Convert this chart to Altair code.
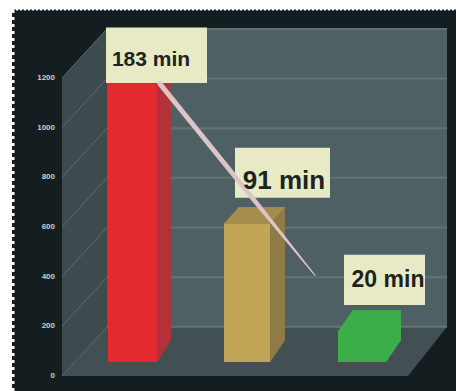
import altair as alt
import pandas as pd

W, H = 456, 391

# Bar values in minutes and their call-outs
bar_minutes = [183, 91, 20]
bar_left = [108, 224, 338]
bar_width = [49, 46, 48]
bar_depth_x = [14, 15, 15]
bar_top_rise = [11, 11, 14]     # rise of the top face, minutes
bar_floor_rise = [14.5, 14.5, 14.5]
front_colors = ["#e4292f", "#c2a557", "#3bae4a"]
side_colors = ["#b3323a", "#8f7b46", "#3bae4a"]
top_colors = ["#c0303a", "#a58d4f", "#3bae4a"]

label_text = ["183 min", "91 min", "20 min"]
label_box_x = [106, 235, 344]
label_box_x2 = [207, 330, 425]
label_box_min = [183.5, 108, 37.5]   # lower edge of each call-out, minutes
label_box_h = [36.5, 33, 33]
label_text_x = [151, 284, 388]
label_text_min = [199, 119, 54]
label_font_size = [21, 26, 23]

# Value axis and walls of the 3D frame
axis_ticks = [0, 200, 400, 600, 800, 1000, 1200]
axis_label_x = 55
wall_front_x, wall_back_x, wall_right_x, floor_right_x = 62, 107, 447, 408
depth_units = 198
wall_top = 1200

# Leader from the first call-out towards the second bar
leader_x = [160, 253, 315]
leader_min = [183, 107.4, 57]
leader_size = [5, 4.5, 1]

frame_x = alt.Scale(domain=[0, W], range=[0, W], nice=False, zero=False)
units_y = alt.Scale(domain=[-60.4, 1514.3], range=[H, 0], nice=False, zero=False)
minutes_y = alt.Scale(domain=[-19.08, 238.16], range=[H, 0], nice=False, zero=False)

X = alt.X("x:Q", scale=frame_x, axis=None)
Y_MIN = alt.Y("y:Q", scale=minutes_y, axis=None)
Y_MIN2 = alt.Y2("y2:Q")
Y_UNIT = alt.Y("y:Q", scale=units_y, axis=None)
Y_UNIT2 = alt.Y2("y2:Q")


def band(points, color, y, y2):
    df = pd.DataFrame(points, columns=["x", "y", "y2"])
    return alt.Chart(df).mark_area(color=color, interpolate="linear", opacity=1).encode(x=X, y=y, y2=y2)


def wall(points, color):
    return band(points, color, Y_UNIT, Y_UNIT2)


def face(points, color):
    return band(points, color, Y_MIN, Y_MIN2)


layers_units = []
# dark backdrop
backdrop = pd.DataFrame({"x": [12], "x2": [W], "y": [-60.4], "y2": [1476]})
layers_units.append(
    alt.Chart(backdrop).mark_rect(color="#141e20").encode(
        x=X, x2="x2:Q", y=Y_UNIT, y2="y2:Q"
    )
)
# back wall, side wall, floor
layers_units.append(wall([(wall_back_x, wall_top + depth_units, depth_units),
                          (wall_right_x, wall_top + depth_units, depth_units)], "#4e6064"))
layers_units.append(wall([(wall_front_x, wall_top, 0),
                          (wall_back_x, wall_top + depth_units, depth_units)], "#3e4b4e"))
layers_units.append(wall([(wall_front_x, 0, 0), (wall_back_x, depth_units, 0),
                          (floor_right_x, depth_units, 0), (wall_right_x, depth_units, depth_units)], "#435053"))

# gridlines on both walls
for t in axis_ticks:
    back = pd.DataFrame({"x": [wall_back_x, wall_right_x], "y": [t + depth_units] * 2})
    layers_units.append(alt.Chart(back).mark_line(color="#627376", strokeWidth=2).encode(x=X, y=Y_UNIT))
    diag = pd.DataFrame({"x": [wall_front_x, wall_back_x], "y": [t, t + depth_units]})
    layers_units.append(alt.Chart(diag).mark_line(color="#5c6d70", strokeWidth=1).encode(x=X, y=Y_UNIT))

# value labels beside the front of the side wall
tick_labels = pd.DataFrame({"x": [axis_label_x] * len(axis_ticks), "y": axis_ticks,
                            "t": [str(t) for t in axis_ticks]})
layers_units.append(
    alt.Chart(tick_labels).mark_text(
        font="Liberation Sans", fontSize=8, fontWeight="bold", color="#c9d0d0",
        align="right", baseline="middle",
    ).encode(x=X, y=Y_UNIT, text="t:N")
)

# torn left and top edge of the backdrop
edge_left = pd.DataFrame({"x": [13, 13], "y": [-60.4, 1476]})
layers_units.append(alt.Chart(edge_left).mark_line(color="#ffffff", strokeWidth=3, strokeDash=[3, 4]).encode(x=X, y=Y_UNIT))
edge_top = pd.DataFrame({"x": [12, W], "y": [1476, 1476]})
layers_units.append(alt.Chart(edge_top).mark_line(color="#ffffff", strokeWidth=2, strokeDash=[2, 2]).encode(x=X, y=Y_UNIT))

layers_minutes = []
for i, v in enumerate(bar_minutes):
    x0, x1 = bar_left[i], bar_left[i] + bar_width[i]
    dx, rise, floor_rise = bar_depth_x[i], bar_top_rise[i], bar_floor_rise[i]
    # full outline first, so that the faces leave no seam between them
    layers_minutes.append(face([(x0, v, 0), (x0 + dx, v + rise, 0), (x1, v + rise, 0),
                                (x1 + dx, v + rise, floor_rise)], side_colors[i]))
    layers_minutes.append(face([(x1, v, 0), (x1 + dx, v + rise, floor_rise)], side_colors[i]))
    layers_minutes.append(face([(x0, v, v), (x0 + dx, v + rise, v), (x1, v + rise, v),
                                (x1 + dx, v + rise, v + rise)], top_colors[i]))
    layers_minutes.append(face([(x0, v, 0), (x1, v, 0)], front_colors[i]))

# call-out boxes
boxes = pd.DataFrame({
    "x": label_box_x, "x2": label_box_x2, "y": label_box_min,
    "y2": [a + b for a, b in zip(label_box_min, label_box_h)],
})
layers_minutes.append(
    alt.Chart(boxes).mark_rect(color="#e8eac6").encode(x=X, x2="x2:Q", y=Y_MIN, y2="y2:Q")
)

# tapered leader
leader = pd.DataFrame({"x": leader_x, "y": leader_min, "s": leader_size, "o": range(len(leader_x))})
layers_minutes.append(
    alt.Chart(leader).mark_trail(color="#dcc5c6").encode(
        x=X, y=Y_MIN, order="o:Q",
        size=alt.Size("s:Q", scale=alt.Scale(domain=[0, 10], range=[0, 10]), legend=None),
    )
)

# call-out text
for i, t in enumerate(label_text):
    d = pd.DataFrame({"x": [label_text_x[i]], "y": [label_text_min[i]], "t": [t]})
    layers_minutes.append(
        alt.Chart(d).mark_text(
            font="Liberation Sans", fontSize=label_font_size[i], fontWeight="bold",
            color="#1c2320", align="center", baseline="middle",
        ).encode(x=X, y=Y_MIN, text="t:N")
    )

units_layer = alt.layer(*layers_units)
minutes_layer = alt.layer(*layers_minutes)

chart = (
    alt.layer(units_layer, minutes_layer)
    .resolve_scale(y="independent")
    .properties(width=W, height=H, padding=0, autosize=alt.AutoSizeParams(type="none"), background="#ffffff")
    .configure_view(stroke=None)
)

chart.save("out.html", embed_options={"renderer": "svg", "actions": False})
